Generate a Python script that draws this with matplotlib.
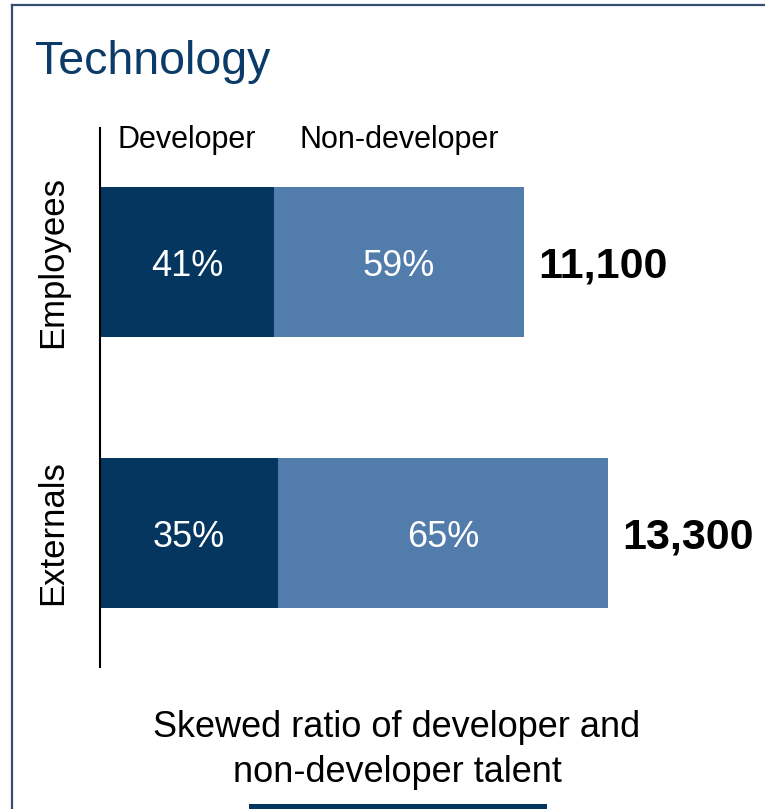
import matplotlib
matplotlib.use("Agg")
import matplotlib.pyplot as plt
from matplotlib.lines import Line2D
from matplotlib.patches import Rectangle

plt.rcParams['font.family'] = ['Liberation Sans', 'DejaVu Sans']

# talent split per group
groups = ["Employees", "Externals"]
segments = ["Developer", "Non-developer"]
dev_share = [41, 35]
nondev_share = [59, 65]
totals = [11100, 13300]

dark_blue = "#04365F"
light_blue = "#517CAC"
title_blue = "#0B3B68"
frame_col = "#34506E"

W, H = 765, 809
fig = plt.figure(figsize=(W / 100, H / 100), dpi=100)

# frame: top and left rules
fig.add_artist(Line2D([11.5 / W, 11.5 / W], [0, 1 - 5 / H], color=frame_col, lw=1.6,
                      transform=fig.transFigure))
fig.add_artist(Line2D([11.5 / W, 1], [1 - 5 / H, 1 - 5 / H], color=frame_col, lw=1.6,
                      transform=fig.transFigure))

fig.text(35 / W, 1 - 74 / H, "Technology", color=title_blue, fontsize=33.5,
         ha="left", va="baseline")

# bar axes
ax_left, ax_right = 100, 765
ax_top, ax_bot = 128, 667
ax = fig.add_axes([ax_left / W, 1 - ax_bot / H, (ax_right - ax_left) / W, (ax_bot - ax_top) / H])

ypos = list(range(len(groups)))
bar_h = 0.5535
dev_vals = [t * p / 100 for t, p in zip(totals, dev_share)]
nondev_vals = [t * p / 100 for t, p in zip(totals, nondev_share)]

ax.barh(ypos, dev_vals, height=bar_h, color=dark_blue, linewidth=0)
ax.barh(ypos, nondev_vals, left=dev_vals, height=bar_h, color=light_blue, linewidth=0)

for y, d, n, dp, np, t in zip(ypos, dev_vals, nondev_vals, dev_share, nondev_share, totals):
    ax.text(d / 2, y + 0.015, f"{dp}%", color="white", fontsize=26, ha="center", va="center")
    ax.text(d + n / 2, y + 0.015, f"{np}%", color="white", fontsize=26, ha="center", va="center")
    ax.annotate(f"{t:,}", xy=(t, y), xytext=(10, -3), textcoords="offset points",
                fontsize=31, fontweight="bold", ha="left", va="center")

# segment headers above the first bar
ax.text(dev_vals[0] / 2, -0.45, segments[0], fontsize=22, ha="center", va="center")
ax.text(dev_vals[0] + nondev_vals[0] / 2, -0.45, segments[1], fontsize=22,
        ha="center", va="center")

ax.set_xlim(0, 665 * 13300 / 508)
ax.set_ylim(1.4945, -0.4945)
ax.set_yticks(ypos)
ax.set_yticklabels(groups, rotation=90, va="center", fontsize=25)
ax.tick_params(axis="y", length=0, pad=22)
ax.set_xticks([])
for s in ["top", "right", "bottom"]:
    ax.spines[s].set_visible(False)
ax.spines["left"].set_linewidth(1.5)
ax.patch.set_visible(False)

fig.text(397 / W, 1 - 737 / H, "Skewed ratio of developer and", fontsize=26,
         ha="center", va="baseline")
fig.text(397 / W, 1 - 782 / H, "non-developer talent", fontsize=26,
         ha="center", va="baseline")

fig.add_artist(Rectangle((249 / W, 0), (547 - 249) / W, 5 / H, color=dark_blue,
                         transform=fig.transFigure, linewidth=0))

fig.savefig("out.png", dpi=100)
